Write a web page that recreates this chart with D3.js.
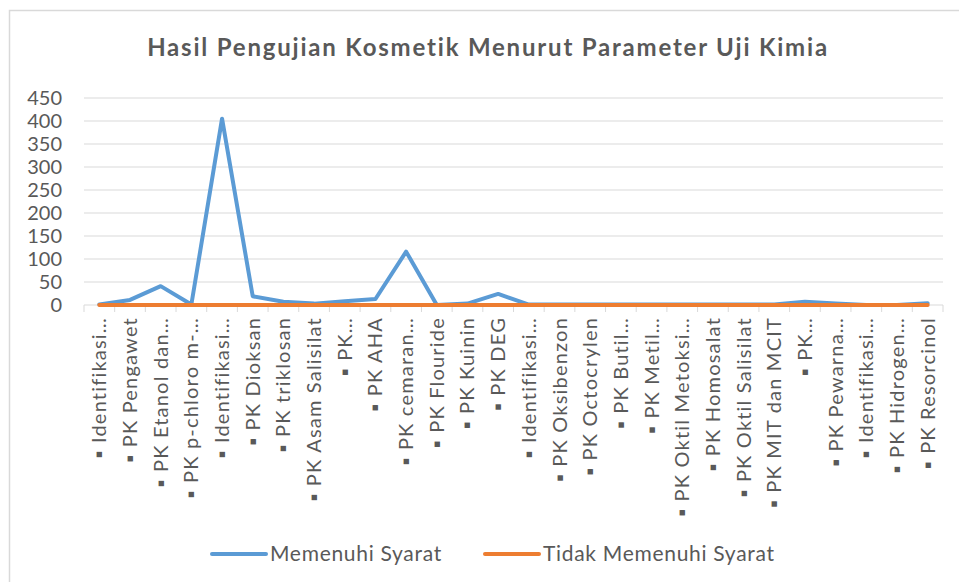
<!DOCTYPE html>
<html>
<head>
<meta charset="utf-8">
<script src="https://cdn.jsdelivr.net/npm/d3@7"></script>
<style>
  body { margin: 0; background: #fff; }
  svg { display: block; font-family: Lato, "Open Sans", sans-serif; }
  .grid line { stroke: #d9d9d9; stroke-width: 1; }
  .ylab { fill: #595959; font-size: 20px; }
  .xlab { fill: #595959; font-size: 20px; letter-spacing: 1.2px; }
  .leg { fill: #595959; font-size: 21px; letter-spacing: 0.7px; }
</style>
</head>
<body>
<svg id="chart" width="959" height="582"></svg>
<script>
const categories = [
  'Identifikasi…', 'PK Pengawet', 'PK Etanol dan…', 'PK p-chloro m-…', 'Identifikasi…',
  'PK Dioksan', 'PK triklosan', 'PK Asam Salisilat', 'PK…', 'PK AHA',
  'PK cemaran…', 'PK Flouride', 'PK Kuinin', 'PK DEG', 'Identifikasi…',
  'PK Oksibenzon', 'PK Octocrylen', 'PK Butil…', 'PK Metil…', 'PK Oktil Metoksi…',
  'PK Homosalat', 'PK Oktil Salisilat', 'PK MIT dan MCIT', 'PK…', 'PK Pewarna…',
  'Identifikasi…', 'PK Hidrogen…', 'PK Resorcinol'
]
const memenuhi = [1, 11, 41, 1, 405, 19, 7, 3, 8, 13, 116, 0, 3, 24, 1, 1, 1, 1, 1, 1, 1, 1, 1, 7, 3, 0, 0, 4]
const tidakMemenuhi = [0, 0, 0, 0, 0, 0, 0, 0, 0, 0, 0, 0, 0, 0, 0, 0, 0, 0, 0, 0, 0, 0, 0, 0, 0, 0, 0, 0]
const yTicks = [0, 50, 100, 150, 200, 250, 300, 350, 400, 450]
const seriesNames = ['Memenuhi Syarat', 'Tidak Memenuhi Syarat']
const colors = ['#5b9bd5', '#ed7d31']

const svg = d3.select('#chart')
const margin = { left: 84, right: 16, top: 98, bottom: 277 }
const W = 959, H = 582

// chart frame
svg.append('rect')
  .attr('x', 9.5).attr('y', 10.5)
  .attr('width', W + 10).attr('height', H + 10)
  .attr('fill', 'none').attr('stroke', '#d9d9d9').attr('stroke-width', 1.5)

svg.append('text')
  .attr('x', 488).attr('y', 56)
  .attr('text-anchor', 'middle')
  .style('font-size', '24px').style('font-weight', 'bold').style('fill', '#595959')
  .style('letter-spacing', '1.8px')
  .text('Hasil Pengujian Kosmetik Menurut Parameter Uji Kimia')

const x = d3.scaleBand()
  .domain(d3.range(categories.length))
  .range([margin.left, W - margin.right])
  .padding(0)

const y = d3.scaleLinear()
  .domain([0, 450])
  .range([H - margin.bottom, margin.top])

// gridlines
svg.append('g').attr('class', 'grid')
  .selectAll('line')
  .data(yTicks.filter(d => d > 0))
  .enter().append('line')
  .attr('x1', margin.left).attr('x2', W - margin.right)
  .attr('y1', d => y(d)).attr('y2', d => y(d))

svg.append('g')
  .selectAll('text')
  .data(yTicks)
  .enter().append('text')
  .attr('class', 'ylab')
  .attr('x', 62).attr('y', d => y(d))
  .attr('dy', '0.35em')
  .attr('text-anchor', 'end')
  .text(d => d)

// category axis
const axisY = y(0)
svg.append('line')
  .attr('x1', margin.left).attr('x2', W - margin.right)
  .attr('y1', axisY).attr('y2', axisY)
  .attr('stroke', '#d9d9d9')

svg.append('g')
  .selectAll('line')
  .data(d3.range(categories.length + 1))
  .enter().append('line')
  .attr('x1', d => d < categories.length ? x(d) : x.range()[1])
  .attr('x2', d => d < categories.length ? x(d) : x.range()[1])
  .attr('y1', axisY).attr('y2', axisY + 7)
  .attr('stroke', '#d9d9d9')

svg.append('g')
  .selectAll('text')
  .data(categories)
  .enter().append('text')
  .attr('class', 'xlab')
  .attr('transform', (d, i) => 'translate(' + (x(i) + x.bandwidth() / 2) + ',' + (axisY + 12) + ') rotate(-90)')
  .attr('dy', '0.35em')
  .attr('text-anchor', 'end')
  .text(d => '▪ ' + d)

const line = d3.line()
  .x((d, i) => x(i) + x.bandwidth() / 2)
  .y(d => y(d))

const series = [memenuhi, tidakMemenuhi]
svg.append('g')
  .selectAll('path')
  .data(series)
  .enter().append('path')
  .attr('d', d => line(d))
  .attr('fill', 'none')
  .attr('stroke', (d, i) => colors[i])
  .attr('stroke-width', 4)
  .attr('stroke-linejoin', 'round')
  .attr('stroke-linecap', 'round')

// legend
const legendX = [212, 485]
const leg = svg.append('g')
  .selectAll('g')
  .data(seriesNames)
  .enter().append('g')
  .attr('transform', (d, i) => 'translate(' + legendX[i] + ',554)')

leg.append('line')
  .attr('x1', 0).attr('x2', 54)
  .attr('stroke', (d, i) => colors[i])
  .attr('stroke-width', 4)
  .attr('stroke-linecap', 'round')

leg.append('text')
  .attr('class', 'leg')
  .attr('x', 58).attr('dy', '0.35em')
  .text(d => d)
</script>
</body>
</html>
